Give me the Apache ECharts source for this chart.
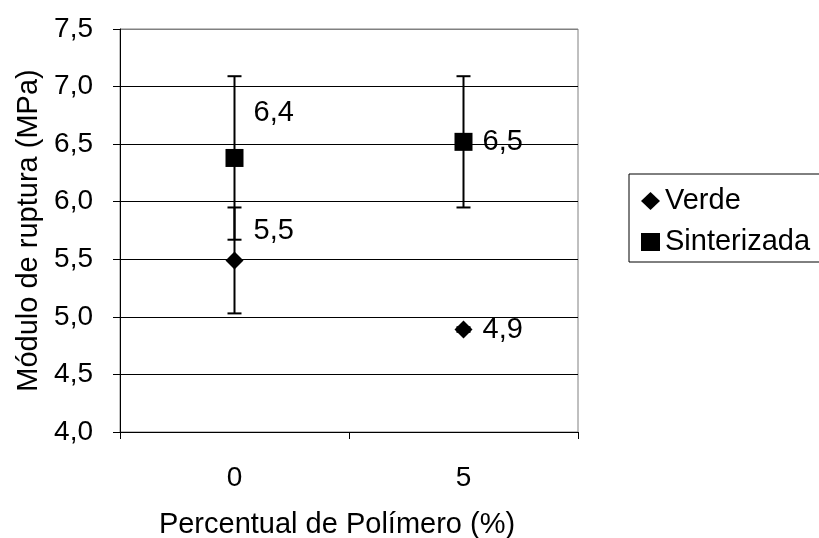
<!DOCTYPE html>
<html>
<head>
<meta charset="utf-8">
<script src="https://cdn.jsdelivr.net/npm/echarts@6/dist/echarts.min.js"></script>
<style>
  html, body { margin: 0; padding: 0; background: #fff; }
  #chart { width: 819px; height: 538px; }
</style>
</head>
<body>
<div id="chart"></div>
<script>
// Polymer content (%) on the category axis
const categories = ['0', '5'];

// Rupture modulus (MPa) and standard deviation, green body ("Verde")
const verde = [5.49, 4.89];
const verdeErr = [0.46, 0.02];

// Rupture modulus (MPa) and standard deviation, sintered body
const sinterizada = [6.38, 6.52];
const sinterizadaErr = [0.71, 0.57];

// Y axis range and step
const yMin = 4.0;
const yMax = 7.5;
const yStep = 0.5;

const FONT = "'Liberation Sans', Arial, sans-serif";
const FS_TICK = 28;
const FS_TEXT = 29;

const fmt = v => v.toFixed(1).replace('.', ',');

// label placement per point (styling only)
const verdeLabelOffsets = [[0, -29], [0, 0]];
const sinterLabelOffsets = [[0, -45], [0, 0]];

function errorData(values, errs) {
  return values.map((v, i) => [i, v - errs[i], v + errs[i]]);
}

function renderErrorBar(params, api) {
  const x = api.value(0);
  const lo = api.coord([x, api.value(1)]);
  const hi = api.coord([x, api.value(2)]);
  const half = 7;
  const style = { stroke: '#000', lineWidth: 2 };
  return {
    type: 'group',
    children: [
      { type: 'line', shape: { x1: hi[0], y1: hi[1], x2: lo[0], y2: lo[1] }, style },
      { type: 'line', shape: { x1: hi[0] - half, y1: hi[1], x2: hi[0] + half, y2: hi[1] }, style },
      { type: 'line', shape: { x1: lo[0] - half, y1: lo[1], x2: lo[0] + half, y2: lo[1] }, style }
    ]
  };
}

function pointData(values, offsets) {
  return values.map((v, i) => ({
    value: v,
    label: { offset: offsets[i] }
  }));
}

const nLines = Math.round((yMax - yMin) / yStep) + 1;
const splitColors = [];
for (let i = 0; i < nLines; i++) splitColors.push(i === nLines - 1 ? '#808080' : '#000');

const chart = echarts.init(document.getElementById('chart'), null, { renderer: 'canvas' });

const pointLabel = {
  show: true, position: 'right', distance: 10,
  fontFamily: FONT, fontSize: FS_TEXT, color: '#000',
  formatter: p => fmt(p.value)
};

chart.setOption({
  animation: false,
  backgroundColor: '#fff',
  textStyle: { fontFamily: FONT, color: '#000' },
  grid: {
    left: 120, right: 241, top: 29, bottom: 106,
    containLabel: false,
    outerBoundsMode: 'none',
    show: true, borderColor: '#808080', borderWidth: 1, backgroundColor: 'transparent'
  },
  legend: {
    orient: 'vertical',
    left: 629, top: 174,
    padding: [12, 40, 5, 12],
    itemGap: 11,
    itemWidth: 19, itemHeight: 18,
    borderColor: '#000', borderWidth: 1,
    textStyle: { fontFamily: FONT, fontSize: FS_TEXT, color: '#000', lineHeight: 30 },
    data: [
      { name: 'Verde', icon: 'diamond' },
      { name: 'Sinterizada', icon: 'rect' }
    ]
  },
  xAxis: {
    type: 'category',
    data: categories,
    boundaryGap: true,
    name: 'Percentual de Polímero (%)',
    nameLocation: 'middle',
    nameGap: 78,
    nameTextStyle: { fontFamily: FONT, fontSize: FS_TEXT, color: '#000', padding: [0, 24, 0, 0] },
    axisLine: { show: true, lineStyle: { color: '#000', width: 1 } },
    axisTick: { show: true, inside: false, length: 7, alignWithLabel: false, lineStyle: { color: '#000' } },
    axisLabel: { fontFamily: FONT, fontSize: FS_TICK, color: '#000', margin: 32 },
    splitLine: { show: false }
  },
  yAxis: {
    type: 'value',
    min: yMin, max: yMax, interval: yStep,
    name: 'Módulo de ruptura (MPa)',
    nameLocation: 'middle',
    nameGap: 76,
    nameRotate: 90,
    nameTextStyle: { fontFamily: FONT, fontSize: FS_TEXT, color: '#000' },
    axisLine: { show: true, lineStyle: { color: '#000', width: 1 } },
    axisTick: { show: true, inside: false, length: 7, lineStyle: { color: '#000' } },
    axisLabel: { fontFamily: FONT, fontSize: FS_TICK, color: '#000', margin: 27, formatter: fmt },
    splitLine: { show: true, lineStyle: { color: splitColors, width: 1 } }
  },
  series: [
    {
      name: 'VerdeErr',
      type: 'custom',
      renderItem: renderErrorBar,
      encode: { x: 0, y: [1, 2] },
      data: errorData(verde, verdeErr),
      z: 3
    },
    {
      name: 'SinterizadaErr',
      type: 'custom',
      renderItem: renderErrorBar,
      encode: { x: 0, y: [1, 2] },
      data: errorData(sinterizada, sinterizadaErr),
      z: 3
    },
    {
      name: 'Verde',
      type: 'scatter',
      symbol: 'diamond',
      symbolSize: 18,
      itemStyle: { color: '#000', opacity: 1 },
      data: pointData(verde, verdeLabelOffsets),
      label: pointLabel,
      z: 4
    },
    {
      name: 'Sinterizada',
      type: 'scatter',
      symbol: 'rect',
      symbolSize: 18,
      itemStyle: { color: '#000', opacity: 1 },
      data: pointData(sinterizada, sinterLabelOffsets),
      label: pointLabel,
      z: 4
    }
  ]
});
</script>
</body>
</html>
